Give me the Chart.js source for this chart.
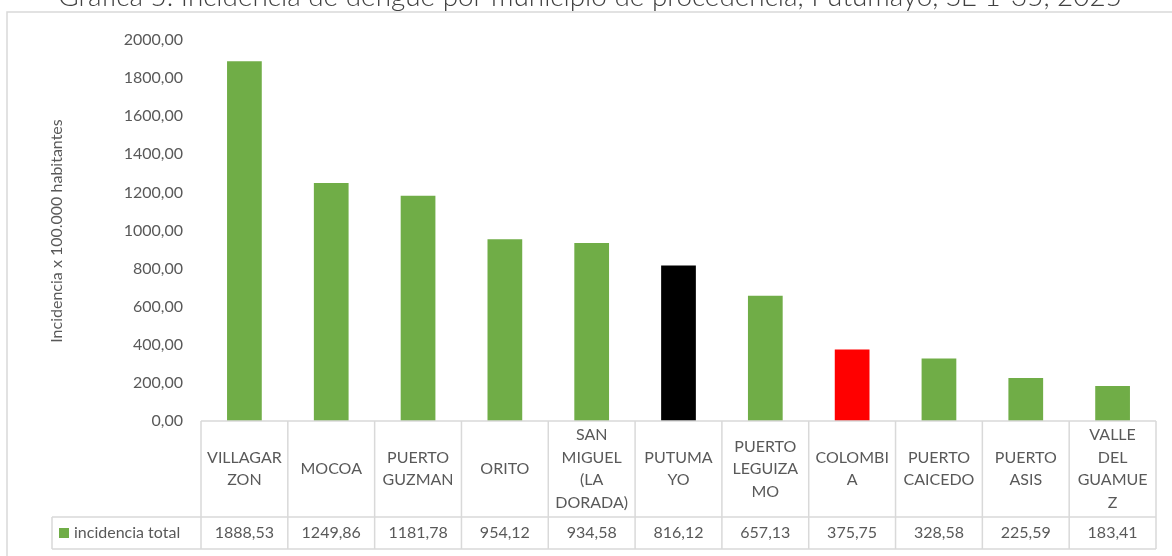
<!DOCTYPE html>
<html>
<head>
<meta charset="utf-8">
<script src="https://cdn.jsdelivr.net/npm/chart.js@4.4.0/dist/chart.umd.min.js"></script>
<style>
  body { margin: 0; background: #fff; }
  #wrap { width: 1172px; height: 556px; }
</style>
</head>
<body>
<div id="wrap"><canvas id="chart"></canvas></div>
<script>
const titleText = "Gráfica 5. Incidencia de dengue por municipio de procedencia, Putumayo, SE 1-35, 2025";
const yTitle = "Incidencia x 100.000 habitantes";
const seriesName = "incidencia total";
const categories = [
    ["VILLAGAR", "ZON"],
    ["MOCOA"],
    ["PUERTO", "GUZMAN"],
    ["ORITO"],
    ["SAN", "MIGUEL", "(LA", "DORADA)"],
    ["PUTUMA", "YO"],
    ["PUERTO", "LEGUIZA", "MO"],
    ["COLOMBI", "A"],
    ["PUERTO", "CAICEDO"],
    ["PUERTO", "ASIS"],
    ["VALLE", "DEL", "GUAMUE", "Z"]
];
const values = [1888.53, 1249.86, 1181.78, 954.12, 934.58, 816.12, 657.13, 375.75, 328.58, 225.59, 183.41];
const barColors = ["#70ad47", "#70ad47", "#70ad47", "#70ad47", "#70ad47", "#000000",
                   "#70ad47", "#ff0000", "#70ad47", "#70ad47", "#70ad47"];
const yMin = 0, yMax = 2000, yStep = 200;

const FONT = "Lato, 'Open Sans', sans-serif";
const TEXT = "#595959";
const LINE = "#d9d9d9";

function fmt(v) {
    return v.toFixed(2).replace(".", ",");
}

// draws the frame, the title and the data table under the bars
const tablePlugin = {
    id: "dataTable",
    afterDraw(chart) {
        const ctx = chart.ctx;
        const area = chart.chartArea;
        const xs = chart.scales.x;
        const n = categories.length;
        const w = (area.right - area.left) / n;
        const top = area.bottom;
        const mid = top + 96;
        const bot = mid + 32;
        const legendLeft = 52;

        ctx.save();
        // outer frame
        ctx.strokeStyle = LINE;
        ctx.lineWidth = 1.5;
        ctx.strokeRect(7, 12, 1300, 700);

        // title (cut at the top in the original)
        ctx.fillStyle = "#404040";
        ctx.font = "300 24px " + FONT;
        let tw = ctx.measureText(titleText).width;
        let size = 24 * 1065 / tw;
        ctx.font = "300 " + size.toFixed(1) + "px " + FONT;
        ctx.textAlign = "center";
        ctx.textBaseline = "alphabetic";
        ctx.fillText(titleText, 590, 6);

        // y axis title
        ctx.save();
        ctx.translate(57, 231);
        ctx.rotate(-Math.PI / 2);
        ctx.fillStyle = TEXT;
        ctx.font = "16px " + FONT;
        ctx.textAlign = "center";
        ctx.textBaseline = "middle";
        ctx.fillText(yTitle, 0, 0);
        ctx.restore();

        // table lines
        ctx.strokeStyle = LINE;
        ctx.lineWidth = 1.5;
        ctx.beginPath();
        ctx.moveTo(area.left, top); ctx.lineTo(area.right, top);
        ctx.moveTo(legendLeft, mid); ctx.lineTo(area.right, mid);
        ctx.moveTo(legendLeft, bot); ctx.lineTo(area.right, bot);
        ctx.moveTo(legendLeft, mid); ctx.lineTo(legendLeft, bot);
        for (let i = 0; i <= n; i++) {
            const x = area.left + i * w;
            ctx.moveTo(x, top); ctx.lineTo(x, bot);
        }
        ctx.stroke();

        // cell texts
        ctx.fillStyle = TEXT;
        ctx.font = "16px " + FONT;
        ctx.textAlign = "center";
        ctx.textBaseline = "middle";
        const lh = 22.5;
        for (let i = 0; i < n; i++) {
            const cx = xs.getPixelForValue(i);
            const lines = categories[i];
            const y0 = (top + mid) / 2 - (lines.length - 1) * lh / 2;
            lines.forEach((t, k) => ctx.fillText(t, cx, y0 + k * lh));
            ctx.fillText(fmt(values[i]), cx, (mid + bot) / 2);
        }

        // legend cell
        ctx.fillStyle = "#70ad47";
        ctx.fillRect(59, (mid + bot) / 2 - 5, 10, 10);
        ctx.fillStyle = TEXT;
        ctx.textAlign = "left";
        ctx.fillText(seriesName, 74, (mid + bot) / 2);
        ctx.restore();
    }
};

const chart = new Chart(document.getElementById("chart"), {
    type: "bar",
    data: {
        labels: categories,
        datasets: [{
            label: seriesName,
            data: values,
            backgroundColor: barColors,
            categoryPercentage: 1,
            barPercentage: 0.4
        }]
    },
    options: {
        responsive: true,
        maintainAspectRatio: false,
        animation: false,
        layout: {
            padding: { top: 40, right: 16, bottom: 135, left: 0 }
        },
        plugins: {
            legend: { display: false },
            tooltip: { enabled: false }
        },
        scales: {
            x: {
                display: false
            },
            y: {
                min: yMin,
                max: yMax,
                afterFit(scale) { scale.width = 201; },
                grid: { display: false, drawTicks: false },
                border: { display: false },
                ticks: {
                    stepSize: yStep,
                    padding: 18,
                    color: TEXT,
                    font: { family: FONT, size: 16 },
                    callback: (v) => fmt(v)
                }
            }
        }
    },
    plugins: [tablePlugin]
});
</script>
</body>
</html>
